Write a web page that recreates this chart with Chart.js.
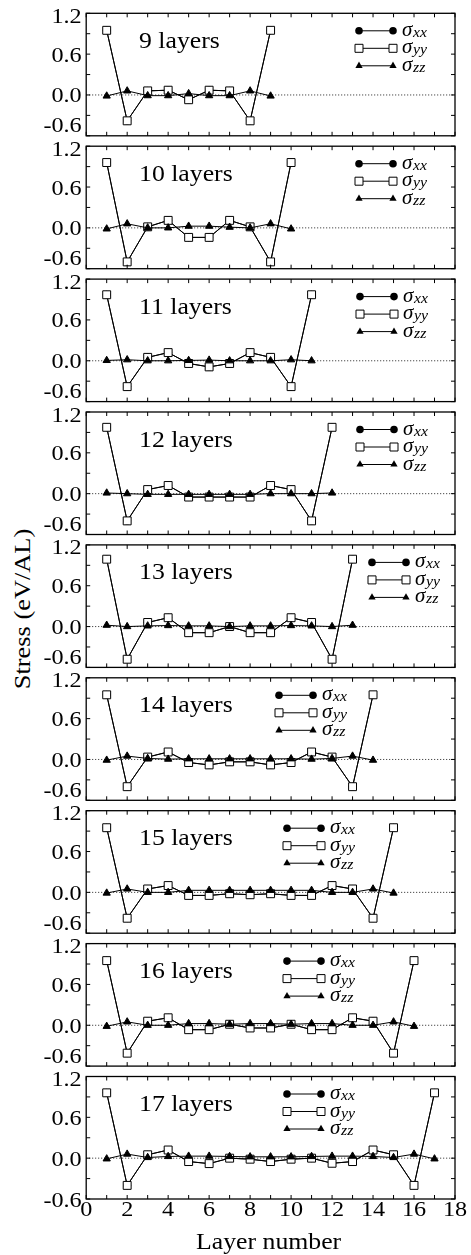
<!DOCTYPE html>
<html>
<head>
<meta charset="utf-8">
<script src="https://cdn.jsdelivr.net/npm/chart.js@4.4.1/dist/chart.umd.min.js"></script>
<style>
  html, body { margin: 0; padding: 0; background: #fff; }
  #wrap { position: relative; width: 471px; height: 1255px; overflow: hidden; background: #fff; }
  #wrap canvas { position: absolute; left: 0; }
  #ytitle {
    position: absolute; left: 22px; top: 609px;
    font-family: "Liberation Serif";
    font-size: 24px; color: #000; white-space: nowrap;
    transform: translate(-50%, -50%) rotate(-90deg) scaleX(1.1);
  }
</style>
</head>
<body>
<div id="wrap">
  <div id="ytitle">Stress (eV/AL)</div>
</div>
<script>
// number of layers in each panel, top to bottom
const layerCounts = [9, 10, 11, 12, 13, 14, 15, 16, 17];

// sigma_yy (open squares)
const syy9  = [0.95, -0.38, 0.06, 0.07, -0.07, 0.07, 0.06, -0.38, 0.95];
const syy10 = [0.96, -0.50, 0.015, 0.11, -0.14, -0.14, 0.11, 0.015, -0.50, 0.96];
const syy11 = [0.97, -0.38, 0.05, 0.12, -0.04, -0.09, -0.04, 0.12, 0.05, -0.38, 0.97];
const syy12 = [0.975, -0.40, 0.06, 0.12, -0.05, -0.05, -0.05, -0.05, 0.12, 0.06, -0.40, 0.975];
const syy13 = [0.99, -0.48, 0.06, 0.13, -0.09, -0.09, 0.0, -0.09, -0.09, 0.13, 0.06, -0.48, 0.99];
const syy14 = [0.95, -0.40, 0.035, 0.11, -0.045, -0.08, -0.035, -0.035, -0.08, -0.045, 0.11, 0.035, -0.40, 0.95];
const syy15 = [0.95, -0.38, 0.05, 0.10, -0.045, -0.045, -0.02, -0.035, -0.02, -0.045, -0.045, 0.10, 0.05, -0.38, 0.95];
const syy16 = [0.95, -0.41, 0.06, 0.11, -0.065, -0.065, 0.015, -0.04, -0.04, 0.015, -0.065, -0.065, 0.11, 0.06, -0.41, 0.95];
const syy17 = [0.96, -0.40, 0.05, 0.12, -0.05, -0.08, 0.0, -0.015, -0.05, -0.015, 0.0, -0.075, -0.05, 0.12, 0.05, -0.40, 0.96];

// sigma_zz (filled triangles)
const szz9  = [-0.015, 0.06, -0.01, -0.01, 0.02, -0.01, -0.01, 0.06, -0.015];
const szz10 = [-0.015, 0.06, 0, 0, 0.025, 0.025, 0.01, 0, 0.06, -0.015];
const szz11 = [0.005, 0.015, 0, 0, 0.005, 0.01, 0, 0, 0, 0.015, 0];
const szz12 = [0.01, 0, -0.01, -0.01, -0.01, -0.01, -0.01, -0.01, 0, 0, 0, 0.01];
const szz13 = [0.02, 0, 0.01, 0.015, 0.01, 0.01, 0, 0.01, 0.01, 0.015, 0.01, 0, 0.02];
const szz14 = [-0.01, 0.05, 0.015, 0.005, 0.01, 0.01, 0.01, 0.01, 0.01, 0.01, 0.005, 0.015, 0.05, -0.01];
const szz15 = [-0.01, 0.05, 0, 0, 0.03, 0.03, 0.03, 0.03, 0.03, 0.03, 0.03, 0, 0, 0.05, -0.01];
const szz16 = [-0.015, 0.05, 0, 0, 0.025, 0.025, 0.015, 0.025, 0.025, 0.015, 0.025, 0.025, 0, 0, 0.05, -0.015];
const szz17 = [-0.01, 0.06, 0.01, 0.025, 0.03, 0.03, 0.025, 0.02, 0.02, 0.02, 0.025, 0.03, 0.03, 0.025, 0.01, 0.06, -0.01];

const syyAll = [syy9, syy10, syy11, syy12, syy13, syy14, syy15, syy16, syy17];
const szzAll = [szz9, szz10, szz11, szz12, szz13, szz14, szz15, szz16, szz17];
// sigma_xx sits exactly under the sigma_yy squares (in-plane stresses are equal)
const sxxAll = syyAll;

const yTicks = [-0.6, -0.3, 0, 0.3, 0.6, 0.9, 1.2];
const yLabels = [1.2, 0.6, 0.0, -0.6];
const xLabels = [0, 2, 4, 6, 8, 10, 12, 14, 16, 18];

// legend x (first marker) per panel
const legendX = [359, 359, 360, 360, 372, 279, 287, 287, 287];

const PITCH = 132.9, TOP0 = 13.3, PH = 122.5;
const SERIF = '"Liberation Serif"';

function stretchText(ctx, str, x, y, font, align, sx) {
  ctx.save();
  ctx.font = font;
  ctx.textAlign = align;
  ctx.textBaseline = 'alphabetic';
  ctx.translate(x, y);
  ctx.scale(sx, 1);
  ctx.fillText(str, 0, 0);
  ctx.restore();
}

function marker(ctx, style, x, y) {
  ctx.save();
  ctx.beginPath();
  ctx.lineWidth = 1;
  ctx.strokeStyle = '#000';
  if (style === 'circle') {
    ctx.arc(x, y, 3.8, 0, Math.PI * 2);
    ctx.fillStyle = '#000';
    ctx.fill();
  } else if (style === 'rect') {
    ctx.rect(x - 4, y - 4, 8, 8);
    ctx.fillStyle = '#fff';
    ctx.fill();
    ctx.stroke();
  } else {
    const r = 4.2;
    ctx.moveTo(x, y - r);
    ctx.lineTo(x + r * 0.866, y + r * 0.5);
    ctx.lineTo(x - r * 0.866, y + r * 0.5);
    ctx.closePath();
    ctx.fillStyle = '#000';
    ctx.fill();
  }
  ctx.restore();
}

const panelDeco = {
  id: 'panelDeco',
  beforeDatasetsDraw(chart) {
    const { ctx, chartArea: a, scales: { y } } = chart;
    const py = y.getPixelForValue(0);
    ctx.save();
    ctx.strokeStyle = '#222';
    ctx.lineWidth = 1;
    ctx.setLineDash([1, 2]);
    ctx.beginPath();
    ctx.moveTo(a.left, py);
    ctx.lineTo(a.right, py);
    ctx.stroke();
    ctx.restore();
  },
  afterDatasetsDraw(chart, args, opts) {
    const { ctx, chartArea: a, scales: { x, y } } = chart;
    ctx.save();
    ctx.strokeStyle = '#000';
    ctx.fillStyle = '#000';
    // frame
    ctx.lineWidth = 1.3;
    ctx.strokeRect(a.left, a.top, a.right - a.left, a.bottom - a.top);
    // inward ticks
    ctx.lineWidth = 1;
    ctx.beginPath();
    for (let v = 0; v <= 18; v++) {
      const px = x.getPixelForValue(v);
      ctx.moveTo(px, a.top); ctx.lineTo(px, a.top + 4);
      ctx.moveTo(px, a.bottom); ctx.lineTo(px, a.bottom - 4);
    }
    yTicks.forEach(v => {
      const py = y.getPixelForValue(v);
      ctx.moveTo(a.left, py); ctx.lineTo(a.left + 4, py);
      ctx.moveTo(a.right, py); ctx.lineTo(a.right - 4, py);
    });
    ctx.stroke();

    // y tick labels
    const tf = '22px ' + SERIF;
    yLabels.forEach(v => {
      let py = y.getPixelForValue(v);
      if (v === 1.2) py += 2;
      if (v === -0.6 && !opts.last) py -= 11;
      stretchText(ctx, v.toFixed(1), a.left - 4.5, py + 7.5, tf, 'right', 1.1);
    });

    // panel title
    stretchText(ctx, opts.n + ' layers', 139, a.top + 34.5, '23px ' + SERIF, 'left', 1.12);

    // legend
    const lx = opts.legendX;
    const rows = [['circle', 'xx'], ['rect', 'yy'], ['triangle', 'zz']];
    rows.forEach((r, i) => {
      const ly = a.top + 17.5 + i * 17.5;
      ctx.lineWidth = 1;
      ctx.beginPath();
      ctx.moveTo(lx, ly); ctx.lineTo(lx + 34, ly);
      ctx.stroke();
      marker(ctx, r[0], lx, ly);
      marker(ctx, r[0], lx + 34, ly);
      stretchText(ctx, '\u03c3', lx + 43, ly + 5, 'italic 20px ' + SERIF, 'left', 1.05);
      stretchText(ctx, r[1], lx + 54, ly + 6, 'italic 15px ' + SERIF, 'left', 1.05);
    });

    if (opts.last) {
      xLabels.forEach(v => {
        stretchText(ctx, String(v), x.getPixelForValue(v), a.bottom + 16.5, tf, 'center', 1.1);
      });
      stretchText(ctx, 'Layer number', (a.left + a.right) / 2 - 2, a.bottom + 50, '23px ' + SERIF, 'center', 1.12);
    }
    ctx.restore();
  }
};

function makeSet(vals, style, radius, fill, order) {
  return {
    data: vals.map((v, i) => ({ x: i + 1, y: v })),
    borderColor: '#000',
    borderWidth: 1,
    pointStyle: style,
    pointRadius: radius,
    pointHoverRadius: radius,
    pointBackgroundColor: fill,
    pointBorderColor: '#000',
    pointBorderWidth: 1,
    tension: 0,
    fill: false,
    order: order
  };
}

const wrap = document.getElementById('wrap');
layerCounts.forEach((n, i) => {
  const last = i === layerCounts.length - 1;
  const panelTop = TOP0 + i * PITCH;
  const cTop = Math.round(panelTop) - 13;
  const cH = last ? 1255 - cTop : 152;
  const padTop = panelTop - cTop;
  const padBottom = cH - padTop - PH;

  const cv = document.createElement('canvas');
  cv.width = 471; cv.height = cH;
  cv.style.top = cTop + 'px';
  cv.style.width = '471px'; cv.style.height = cH + 'px';
  wrap.appendChild(cv);

  new Chart(cv.getContext('2d'), {
    type: 'line',
    data: {
      datasets: [
        makeSet(szzAll[i], 'triangle', 4.2, '#000', 0),
        makeSet(syyAll[i], 'rect', 5.6, '#fff', 1),
        makeSet(sxxAll[i], 'circle', 3.5, '#000', 2)
      ]
    },
    options: {
      responsive: false,
      animation: false,
      events: [],
      layout: { padding: { left: 86.2, right: 16, top: padTop, bottom: padBottom } },
      scales: {
        x: { type: 'linear', min: 0, max: 18, display: false },
        y: { type: 'linear', min: -0.6, max: 1.2, display: false }
      },
      plugins: {
        legend: { display: false },
        tooltip: { enabled: false },
        panelDeco: { n: n, last: last, legendX: legendX[i] }
      }
    },
    plugins: [panelDeco]
  });
});
</script>
</body>
</html>
